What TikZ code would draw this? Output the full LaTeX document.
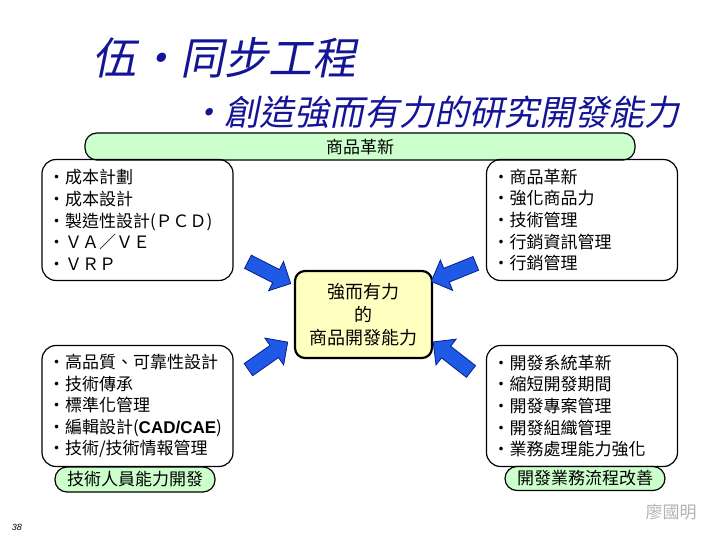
\documentclass[tikz,border=0pt]{standalone}
\usepackage{fontspec}
\setmainfont{Noto Sans CJK TC}
\newfontfamily\titlefont[FakeSlant=0.2]{Noto Sans CJK TC}
\newfontfamily\latinfont{Liberation Sans}
\usetikzlibrary{shapes.arrows}

\definecolor{navy}{RGB}{20,20,150}
\definecolor{mint}{RGB}{204,255,204}
\definecolor{cream}{RGB}{255,255,192}
\definecolor{arrowblue}{RGB}{30,90,230}
\definecolor{arrowedge}{RGB}{10,30,140}

\newcommand\bul[1]{\makebox[17pt][l]{•}#1}

\tikzset{
  itembox/.style={draw, line width=1.2pt, rounded corners=14pt,
    minimum width=191pt, minimum height=121pt, text width=179pt,
    inner xsep=6pt, align=left, font=\fontsize{17}{21.6}\selectfont},
  greentag/.style={draw, fill=mint, line width=1.2pt, rounded corners=12pt,
    inner sep=0pt, font=\fontsize{17}{20}\selectfont},
  corebox/.style={draw, fill=cream, line width=2.2pt, rounded corners=10pt,
    minimum width=137pt, minimum height=87pt, align=center,
    font=\fontsize{18}{23}\selectfont},
  bluearrow/.style={single arrow, draw=arrowedge, fill=arrowblue,
    line width=0.8pt, minimum height=48pt, single arrow head extend=9pt,
    inner sep=7pt}
}

\begin{document}
\begin{tikzpicture}[x=1pt,y=-1pt]
  \useasboundingbox (0,0) rectangle (720,540);

  % titles
  \node[anchor=west, text=navy, font=\titlefont\fontsize{44}{44}\selectfont] (title) at (89,58) {伍・同步工程};
  \node[anchor=west, text=navy, font=\titlefont\fontsize{35}{35}\selectfont] (subtitle) at (186,112) {・創造強而有力的研究開發能力};

  % top band
  \node[greentag, minimum width=550pt, minimum height=27pt] (band) at (360,146.5) {商品革新};

  % four boxes
  \node[itembox] (cost) at (137.5,220) {\bul{成本計劃}\\ \bul{成本設計}\\ \bul{製造性設計(ＰＣＤ)}\\ \bul{ＶＡ／ＶＥ}\\ \bul{ＶＲＰ}};
  \node[itembox] (market) at (582,220) {\bul{商品革新}\\ \bul{強化商品力}\\ \bul{技術管理}\\ \bul{行銷資訊管理}\\ \bul{行銷管理}};
  \node[itembox] (tech) at (137.5,406) {\bul{高品質、可靠性設計}\\ \bul{技術傳承}\\ \bul{標準化管理}\\ \bul{編輯設計({\latinfont\bfseries CAD/CAE})}\\ \bul{技術/技術情報管理}};
  \node[itembox] (flow) at (582,406) {\bul{開發系統革新}\\ \bul{縮短開發期間}\\ \bul{開發專案管理}\\ \bul{開發組織管理}\\ \bul{業務處理能力強化}};

  % bottom tags
  \node[greentag, minimum width=160pt, minimum height=25pt] (techtag) at (135,479.5) {技術人員能力開發};
  \node[greentag, minimum width=160pt, minimum height=24pt] (flowtag) at (585,478.5) {開發業務流程改善};

  % center
  \node[corebox] (core) at (363.5,314.5) {強而有力\\的\\商品開發能力};

  % arrows
  \foreach \name/\x/\y/\ang in {al/266/271/-27, ar/457/271/202, bl/265/358/35, br/455/359/142}
    \node[bluearrow, rotate=\ang] (\name) at (\x,\y) {};

  \node[font=\latinfont\itshape\fontsize{9}{9}\selectfont] (page) at (17,527) {38};
  \node[text=gray!60, font=\fontsize{17}{17}\selectfont] (author) at (671,512) {廖國明};
\end{tikzpicture}
\end{document}
